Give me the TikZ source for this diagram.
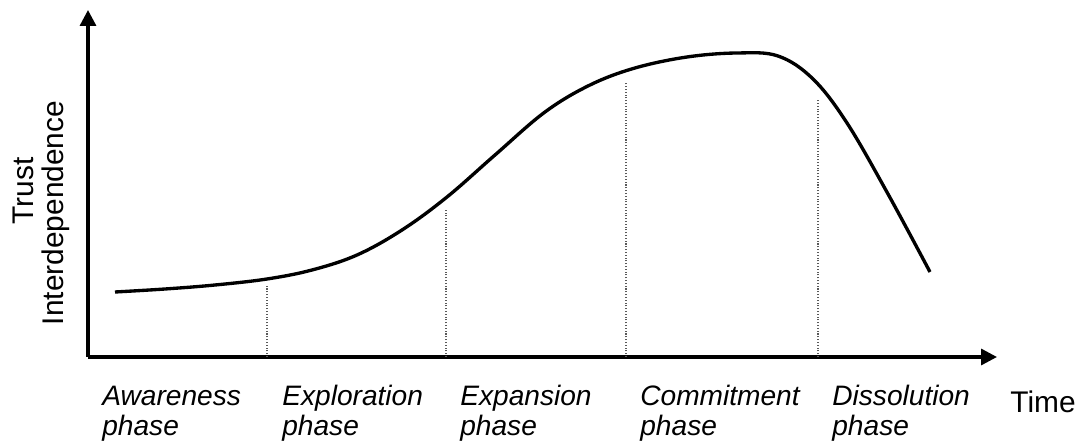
\documentclass[tikz,border=0pt]{standalone}
\usepackage{fontspec}
\setmainfont{Liberation Sans}
\usetikzlibrary{arrows.meta}

\begin{document}
\begin{tikzpicture}[x=0.02cm, y=0.02cm,
  axis/.style={line width=1.9pt, -{Triangle[length=0.32cm, width=0.32cm]}},
  trend/.style={line width=1.9pt, line join=round},
  divider/.style={densely dotted, line width=0.6pt, black!65},
  phaselabel/.style={anchor=base west, align=left, inner sep=0pt,
                     font=\fontsize{16}{17.5}\selectfont\itshape},
  axislabel/.style={inner sep=0pt, font=\fontsize{17}{20}\selectfont},
]
\useasboundingbox (0,0) rectangle (1085,446);

% axes
\coordinate (origin) at (88,89);
\coordinate (ytip) at (88,436);
\coordinate (xtip) at (997,89);
\draw[axis] (origin) -- (ytip);
\draw[axis] (origin) -- (xtip);

% phase boundaries
\draw[divider] (267,89) -- (267,161);
\draw[divider] (446,89) -- (446,236);
\draw[divider] (626,89) -- (626,364);
\draw[divider] (818,89) -- (818,346);

% relationship curve
\draw[trend] plot[smooth, tension=0.6] coordinates {
  (115,154) (165,157) (215,161) (267,167) (312,176) (357,191)
  (402,216) (447,249) (495,291) (545,334) (590,361) (635,378)
  (687,389) (737,393) (778,390) (813,367) (847,323) (888,252)
  (930,174)};

% axis labels
\node[axislabel, rotate=90, anchor=base] (trust) at (33,255) {Trust};
\node[axislabel, rotate=90, anchor=base] (interdep) at (63,233) {Interdependence};
\node[axislabel, anchor=base west] (time) at (1010,33) {Time};

% phases
\node[phaselabel] (awareness) at (102,10) {Awareness\\phase};
\node[phaselabel] (exploration) at (282,10) {Exploration\\phase};
\node[phaselabel] (expansion) at (460,10) {Expansion\\phase};
\node[phaselabel] (commitment) at (640,10) {Commitment\\phase};
\node[phaselabel] (dissolution) at (832,10) {Dissolution\\phase};

\end{tikzpicture}
\end{document}
